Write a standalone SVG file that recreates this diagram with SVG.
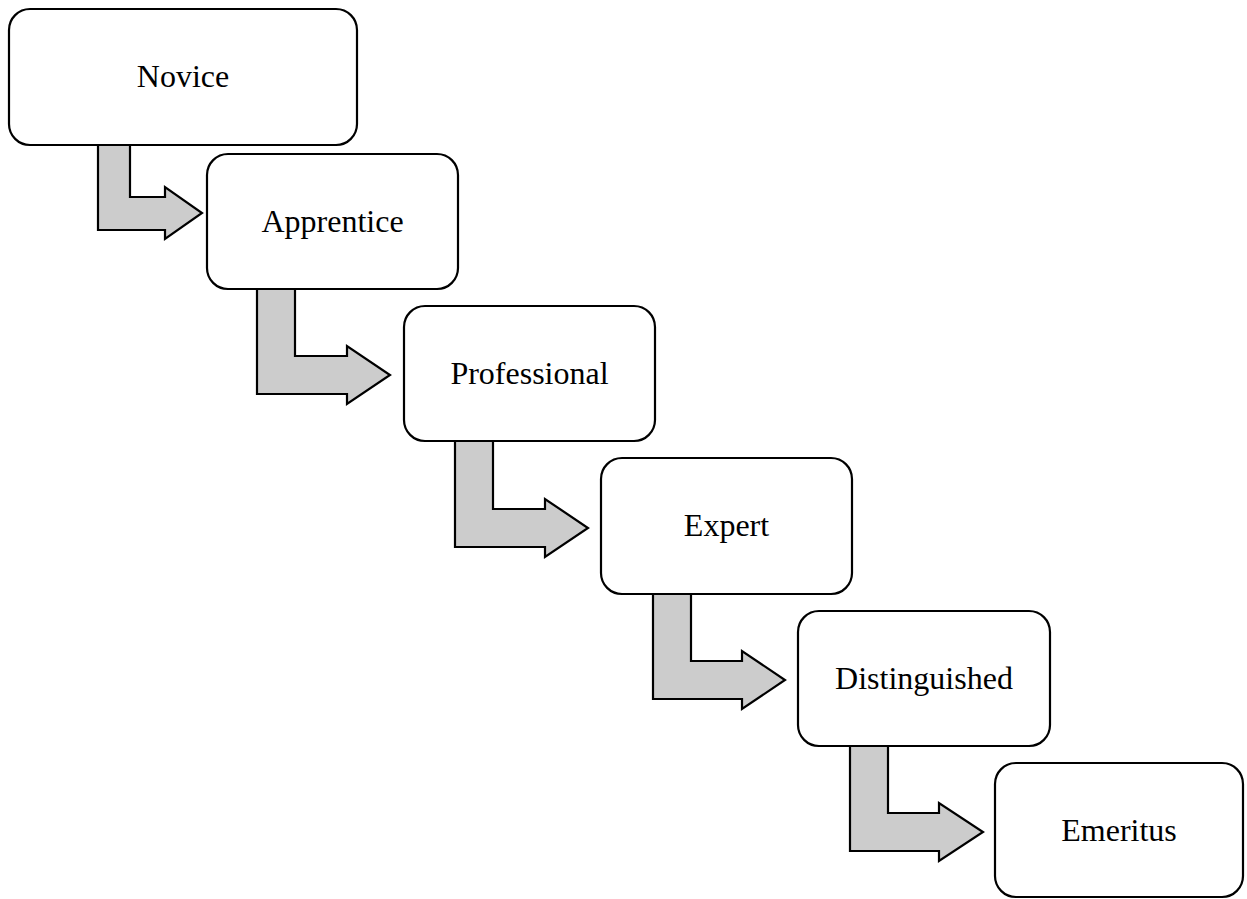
<svg xmlns="http://www.w3.org/2000/svg" width="1247" height="899" viewBox="0 0 1247 899">
  <style>
    .box { fill: #ffffff; stroke: #000000; stroke-width: 2.2; }
    .lbl { font-family: "Liberation Serif", "Times New Roman", serif; font-size: 32px; fill: #000000; text-anchor: middle; }
    .bend { fill: #cccccc; stroke: #000000; stroke-width: 2.2; stroke-linejoin: miter; }
  </style>
  <rect width="1247" height="899" fill="#ffffff"/>

  <!-- bent block arrows between consecutive stages -->
  <g id="connectors">
    <path class="bend" d="M98,145 L130,145 L130,197 L165,197 L165,187 L202,213 L165,239 L165,230 L98,230 Z"/>
    <path class="bend" d="M257,289 L295,289 L295,356 L347,356 L347,346 L390,375 L347,404 L347,394 L257,394 Z"/>
    <path class="bend" d="M455,441 L493,441 L493,509 L545,509 L545,499 L588,528 L545,557 L545,547 L455,547 Z"/>
    <path class="bend" d="M653,594 L691,594 L691,661 L742,661 L742,651 L785,680 L742,709 L742,699 L653,699 Z"/>
    <path class="bend" d="M850,746 L888,746 L888,813 L939,813 L939,803 L983,832 L939,861 L939,851 L850,851 Z"/>
  </g>

  <g id="novice">
    <rect class="box" x="9" y="9" width="348" height="136" rx="21" ry="21"/>
    <text class="lbl" x="183" y="87">Novice</text>
  </g>
  <g id="apprentice">
    <rect class="box" x="207" y="154" width="251" height="135" rx="21" ry="21"/>
    <text class="lbl" x="332.5" y="232">Apprentice</text>
  </g>
  <g id="professional">
    <rect class="box" x="404" y="306" width="251" height="135" rx="21" ry="21"/>
    <text class="lbl" x="529.5" y="384">Professional</text>
  </g>
  <g id="expert">
    <rect class="box" x="601" y="458" width="251" height="136" rx="21" ry="21"/>
    <text class="lbl" x="726.5" y="536">Expert</text>
  </g>
  <g id="distinguished">
    <rect class="box" x="798" y="611" width="252" height="135" rx="21" ry="21"/>
    <text class="lbl" x="924" y="689">Distinguished</text>
  </g>
  <g id="emeritus">
    <rect class="box" x="995" y="763" width="248" height="134" rx="21" ry="21"/>
    <text class="lbl" x="1119" y="841">Emeritus</text>
  </g>
</svg>
